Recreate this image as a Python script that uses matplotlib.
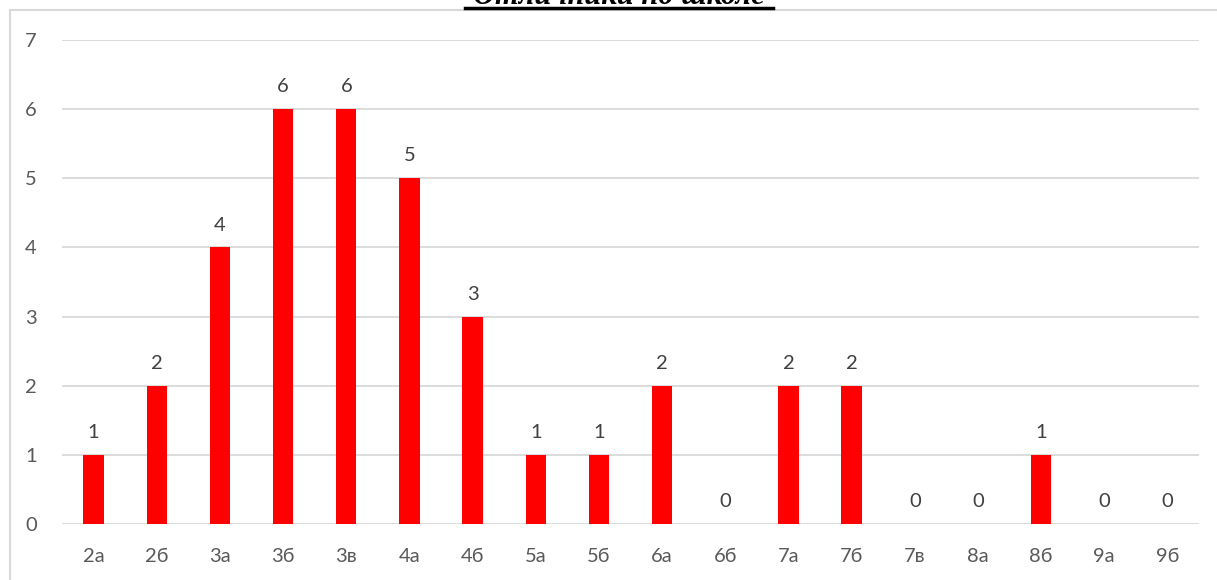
import matplotlib
matplotlib.use('Agg')
import numpy as np
from matplotlib import pyplot as plt
from matplotlib.lines import Line2D

classes = ['2а', '2б', '3а', '3б', '3в', '4а', '4б', '5а', '5б', '6а',
           '6б', '7а', '7б', '7в', '8а', '8б', '9а', '9б']
counts = [1, 2, 4, 6, 6, 5, 3, 1, 1, 2, 0, 2, 2, 0, 0, 1, 0, 0]
title_text = 'Отличники по школе'

plt.rcParams['font.family'] = ['Lato', 'DejaVu Sans']

fig = plt.figure(figsize=(12.17, 5.80), dpi=100)
ax = fig.add_axes([62 / 1217, 1 - 524 / 580, (1199 - 62) / 1217, (524 - 40) / 580])

x = np.arange(len(classes))
ax.bar(x, counts, width=0.32, color='#ff0000', zorder=3)
for xi, v in zip(x, counts):
    ax.text(xi, v + 0.2, str(v), ha='center', va='bottom', fontsize=14.5, color='#404040')

ax.set_xlim(-0.5, len(classes) - 0.5)
ax.set_ylim(0, 7)
ax.set_yticks(np.arange(0, 8, 1))
ax.set_xticks(x, classes)
ax.grid(axis='y', color='#d9d9d9', linewidth=1.3, zorder=0)
for s in ax.spines.values():
    s.set_visible(False)
ax.tick_params(length=0, labelsize=14.5, labelcolor='#595959')
ax.tick_params(axis='x', pad=17)
ax.tick_params(axis='y', pad=18)

# рамка диаграммы
fig.add_artist(Line2D([10 / 1217, 10 / 1217], [0, 1 - 10 / 580], color='#d9d9d9', linewidth=1.5))
fig.add_artist(Line2D([10 / 1217, 1], [1 - 10 / 580, 1 - 10 / 580], color='#d9d9d9', linewidth=1.5))

# заголовок (обрезан сверху, как в оригинале)
fig.text(619 / 1217, 1 - 4 / 580, title_text, ha='center', va='baseline', fontsize=22,
         fontweight='bold', fontstyle='italic', family=['Liberation Serif', 'DejaVu Serif'])
fig.add_artist(Line2D([465 / 1217, 773 / 1217], [1 - 8 / 580, 1 - 8 / 580], color='black', linewidth=2.5))

fig.savefig('out.png', dpi=100)
